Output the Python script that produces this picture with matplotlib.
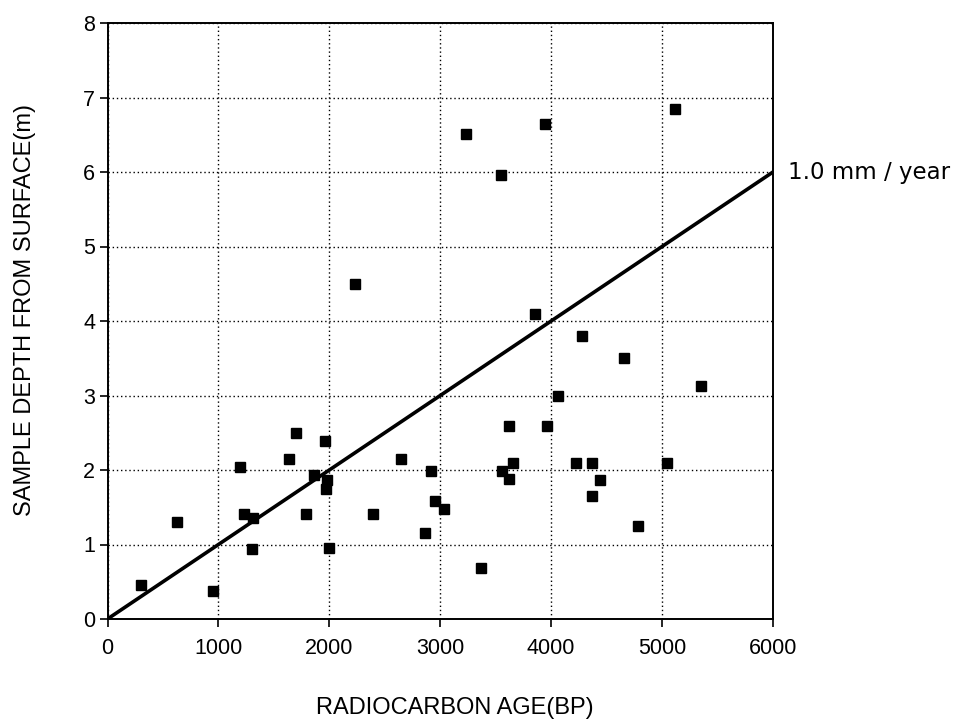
"""
Radiocarbon age vs sample depth scatter with a 1.0 mm/year reference line.
"""
import matplotlib
matplotlib.use("Agg")
import matplotlib.pyplot as plt  # type: ignore

FONT = "Liberation Sans"

# radiocarbon ages (years BP) and depths (m)
AGE_BP = [
    2230, 3230, 3945, 3548, 5120, 3852,
    1697, 1964, 1640, 1198, 1862, 1982, 1970, 2647, 2917, 2956, 3034,
    2860, 630, 1231, 1309, 1790, 2397, 1303, 1997, 302, 954,
    4279, 4657, 5354, 4062, 3620, 3960, 3656, 4225, 4369, 5048,
    3557, 3620, 4444, 4369, 4781, 3368,
]
DEPTH_M = [
    4.50, 6.51, 6.64, 5.96, 6.85, 4.09,
    2.49, 2.39, 2.15, 2.04, 1.93, 1.86, 1.75, 2.15, 1.99, 1.59, 1.48,
    1.16, 1.30, 1.41, 1.35, 1.41, 1.41, 0.94, 0.95, 0.45, 0.38,
    3.80, 3.51, 3.13, 3.00, 2.59, 2.59, 2.09, 2.09, 2.09, 2.09,
    1.99, 1.88, 1.86, 1.65, 1.25, 0.69,
]
RATE_LINE_X = [0, 6000]
RATE_LINE_Y = [0, 6]
RATE_LABEL = "1.0 mm / year"
X_TICKS = [0, 1000, 2000, 3000, 4000, 5000, 6000]
Y_TICKS = [0, 1, 2, 3, 4, 5, 6, 7, 8]

W, H = 963, 725
fig = plt.figure(figsize=(W / 100, H / 100), dpi=100)
ax = fig.add_axes([107.5 / W, 1 - 619 / H, (773 - 107.5) / W, (619 - 23) / H])

ax.plot(RATE_LINE_X, RATE_LINE_Y, color="black", linewidth=2.6, zorder=3)
ax.plot(AGE_BP, DEPTH_M, linestyle="none", marker="s", markersize=6.5,
        color="black", zorder=4)

ax.annotate(RATE_LABEL, xy=(RATE_LINE_X[1], RATE_LINE_Y[1]),
            xytext=(11, 0), textcoords="offset points", va="center",
            ha="left", fontsize=16.5, family="DejaVu Sans",
            annotation_clip=False)

ax.set_xlim(0, 6000)
ax.set_ylim(0, 8)
ax.set_xticks(X_TICKS)
ax.set_yticks(Y_TICKS)
ax.grid(True, linestyle=(0, (1, 2)), linewidth=1.0, color="black")
ax.tick_params(direction="out", length=6, width=1.2, labelsize=15.5,
               color="black")
ax.tick_params(axis="x", pad=8)
ax.tick_params(axis="y", pad=3)
for lab in ax.get_xticklabels() + ax.get_yticklabels():
    lab.set_family(FONT)
for spine in ax.spines.values():
    spine.set_linewidth(1.4)

fig.text(455 / W, 1 - 708 / H, "RADIOCARBON AGE(BP)", ha="center",
         va="center", fontsize=17, family=FONT)
fig.text(25 / W, 1 - 310 / H, "SAMPLE DEPTH FROM SURFACE(m)", ha="center",
         va="center", rotation=90, fontsize=17, family=FONT)

fig.savefig("out.png", dpi=100)
plt.close(fig)
